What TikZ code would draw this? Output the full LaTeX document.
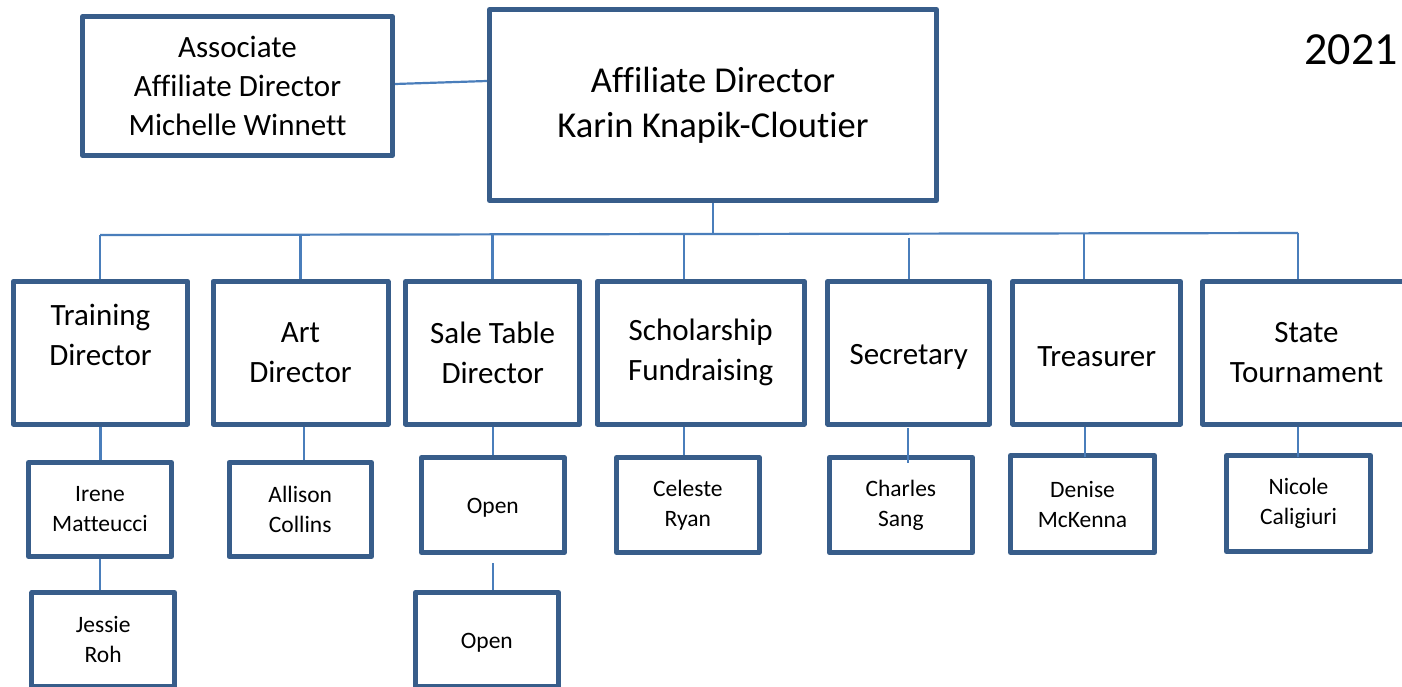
\documentclass[tikz,border=0pt]{standalone}
\usepackage{fontspec}
\setmainfont{Carlito}[Ligatures=NoCommon]
\usetikzlibrary{calc}
\definecolor{boxc}{HTML}{385D8A}
\definecolor{linec}{HTML}{4A7EBB}
\begin{document}
\begin{tikzpicture}[x=1pt,y=-1pt,
  box/.style={draw=boxc, line width=5pt, line join=round, inner sep=0pt, align=center, text=black,
    execute at begin node={\rule{0pt}{0.9em}}},
  bigbox/.style={box, font=\fontsize{36.5}{45}\selectfont},
  assocbox/.style={box, font=\fontsize{31}{39}\selectfont},
  midbox/.style={box, font=\fontsize{31}{40}\selectfont, minimum height=142.5pt},
  smallbox/.style={box, font=\fontsize{23.5}{30}\selectfont},
  conn/.style={draw=linec, line width=2.2pt},
]
\useasboundingbox (0,0) rectangle (1402,687);
\clip (0,0) rectangle (1402,687);

% top level
\node[bigbox, minimum width=447pt, minimum height=191pt] (main) at (713,105) {Affiliate Director\\Karin Knapik-Cloutier};
\node[assocbox, minimum width=310pt, minimum height=138.4pt] (assoc) at (237.5,86) {Associate\\Affiliate Director\\Michelle Winnett};
\node[font=\fontsize{46}{55}\selectfont, anchor=base, inner sep=0pt] (year) at (1351,64.3) {2021};

% second level
\node[midbox, minimum width=174.5pt] (train) at (100.5,352.75) {};
\node[font=\fontsize{31}{40}\selectfont, align=center, inner sep=0pt] (traintxt) at ([yshift=17.75pt]train.center) {Training\\Director};
\node[midbox, minimum width=175pt] (art) at (300.5,352.75) {Art\\Director};
\node[midbox, minimum width=174.5pt] (sale) at (492.7,352.75) {Sale Table\\Director};
\node[midbox, minimum width=207pt] (schol) at (700.7,352.75) {Scholarship\\Fundraising};
\node[midbox, minimum width=161.7pt] (secr) at (908.7,352.75) {Secretary};
\node[midbox, minimum width=167.7pt] (treas) at (1096.7,352.75) {Treasurer};
\node[midbox, minimum width=208pt] (state) at (1306.5,352.75) {State\\Tournament};

% third level
\node[smallbox, minimum width=143pt, minimum height=94pt] (irene) at (100,509.5) {Irene\\Matteucci};
\node[smallbox, minimum width=142.5pt, minimum height=94pt] (jessie) at (103.2,639.5) {Jessie\\Roh};
\node[smallbox, minimum width=142.5pt, minimum height=94pt] (allison) at (300.25,509.5) {Allison\\Collins};
\node[smallbox, minimum width=142.7pt, minimum height=95pt] (open1) at (492.85,505) {Open};
\node[smallbox, minimum width=143.3pt, minimum height=94pt] (open2) at (486.85,639.5) {Open};
\node[smallbox, minimum width=142.7pt, minimum height=95pt] (celeste) at (687.85,505) {Celeste\\Ryan};
\node[smallbox, minimum width=143.3pt, minimum height=95pt] (charles) at (900.85,505) {Charles\\Sang};
\node[smallbox, minimum width=144pt, minimum height=97pt] (denise) at (1082.5,504) {Denise\\McKenna};
\node[smallbox, minimum width=144pt, minimum height=96pt] (nicole) at (1298.5,503.5) {Nicole\\Caligiuri};

% connectors, top
\draw[conn] ([yshift=2pt]assoc.east) -- ([yshift=24pt]main.west);
\coordinate (busL) at (100,235);
\coordinate (busR) at (1298,233);
\coordinate (busM) at (713,234);
\draw[conn] (main.south) -- (busM);
\draw[conn] (busL) -- (busR);
\draw[conn] (busL) -- (busL |- train.north);
\coordinate (b2) at (300.5,234.7);
\draw[conn] (b2) -- (b2 |- art.north);
\coordinate (b3) at (492.5,234.4);
\draw[conn] (b3) -- (b3 |- sale.north);
\coordinate (b4) at (684,234);
\draw[conn] (b4) -- (b4 |- schol.north);
\coordinate (b5) at (908.7,237.5);
\draw[conn] (b5) -- (b5 |- secr.north);
\coordinate (b6) at (1084.3,233.4);
\draw[conn] (b6) -- (b6 |- treas.north);
\draw[conn] (busR) -- (busR |- state.north);

% connectors, lower
\draw[conn] (train.south) -- (train.south |- irene.north);
\draw[conn] (irene.south) -- (irene.south |- jessie.north);
\coordinate (c2) at (304.2,0);
\draw[conn] (c2 |- art.south) -- (c2 |- allison.north);
\coordinate (c3) at (493,0);
\draw[conn] (c3 |- sale.south) -- (c3 |- open1.north);
\coordinate (c3b) at (493.3,563.3);
\draw[conn] (c3b) -- (c3b |- open2.north);
\coordinate (c4) at (684.3,0);
\draw[conn] (c4 |- schol.south) -- (c4 |- celeste.north);
\coordinate (c5) at (908.3,428);
\draw[conn] (c5) -- ($(c5 |- charles.north)+(0,7.5)$);
\coordinate (c6) at (1085,0);
\draw[conn] (c6 |- treas.south) -- ($(c6 |- denise.north)+(0,3.5)$);
\coordinate (c7) at (1298,0);
\draw[conn] (c7 |- state.south) -- ($(c7 |- nicole.north)+(0,3.5)$);
\end{tikzpicture}
\end{document}
